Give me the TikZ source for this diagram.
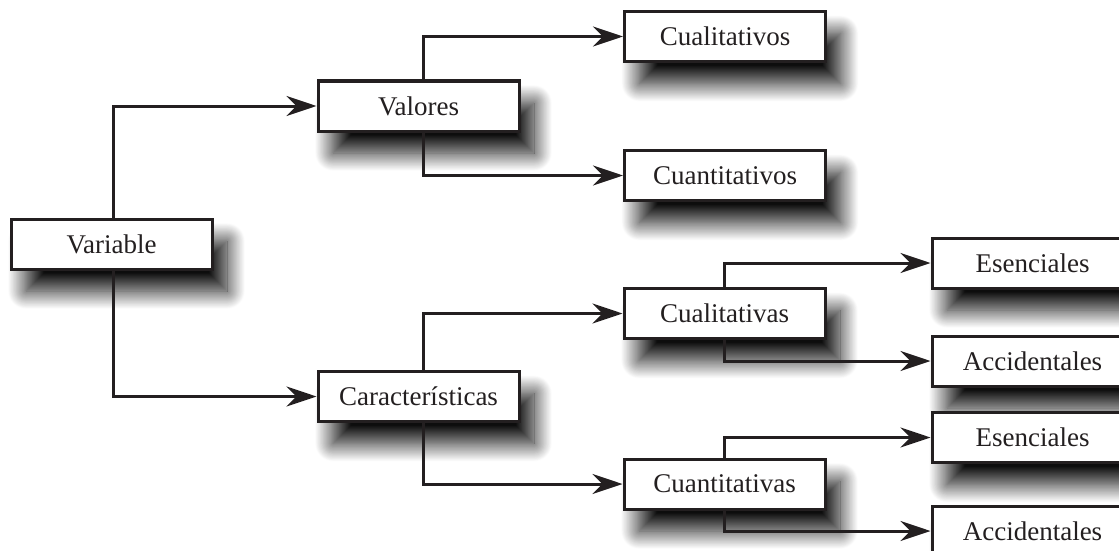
\documentclass[tikz,border=0pt]{standalone}
\usepackage{fontspec}
\setmainfont{Liberation Serif}
\usetikzlibrary{arrows.meta,shadows.blur}
\definecolor{ink}{HTML}{231F20}
\tikzset{
  box/.style={draw=ink, line width=3pt, fill=white, minimum width=201pt, minimum height=50pt,
    inner sep=0pt, text=ink, font=\fontsize{27}{30}\selectfont,
    blur shadow={shadow xshift=15pt, shadow yshift=-22pt, shadow blur radius=18pt,
      shadow blur steps=30, shadow opacity=95}},
  conn/.style={draw=ink, line width=3pt, -{Stealth[length=30pt, width=20pt, inset=10pt]}}
}
\begin{document}
\begin{tikzpicture}[x=1pt,y=-1pt]
\useasboundingbox (0,0) rectangle (1119,551);
\begin{scope}
\clip (0,0) rectangle (1119,551);
\node[box] (var) at (111.5,244) {Variable};
\node[box] (val) at (418.5,106) {Valores};
\node[box] (car) at (418.5,396.5) {Características};
\node[box] (cualos) at (725,36.5) {Cualitativos};
\node[box] (cuanos) at (725,175.5) {Cuantitativos};
\node[box] (cualas) at (724.5,313.5) {Cualitativas};
\node[box] (cuanas) at (724.5,484) {Cuantitativas};
\node[box] (ese1) at (1032.5,263) {Esenciales};
\node[box] (acc1) at (1032.5,361) {Accidentales};
\node[box] (ese2) at (1032.5,437.5) {Esenciales};
\node[box] (acc2) at (1032.5,531) {Accidentales};
\draw[conn] ([xshift=1.5pt]var.north) |- (val.west);
\draw[conn] ([xshift=1.5pt]var.south) |- (car.west);
\draw[conn] ([xshift=4.5pt]val.north) |- (cualos.west);
\draw[conn] ([xshift=4.5pt]val.south) |- (cuanos.west);
\draw[conn] ([xshift=4.5pt]car.north) |- (cualas.west);
\draw[conn] ([xshift=4.5pt]car.south) |- (cuanas.west);
\draw[conn] (cualas.north) |- (ese1.west);
\draw[conn] (cualas.south) |- (acc1.west);
\draw[conn] (cuanas.north) |- (ese2.west);
\draw[conn] (cuanas.south) |- (acc2.west);
\end{scope}
\end{tikzpicture}
\end{document}
